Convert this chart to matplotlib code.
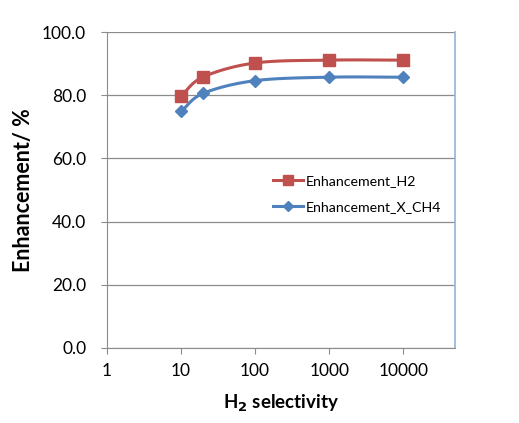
import matplotlib
matplotlib.use("Agg")
import matplotlib.pyplot as plt
import numpy as np

# data
selectivity = [10, 20, 100, 1000, 10000]
enh_h2 = [79.8, 85.8, 90.2, 91.1, 91.1]
enh_ch4 = [74.9, 80.6, 84.6, 85.7, 85.7]

x_ticks = [1, 10, 100, 1000, 10000]
x_tick_labels = ["1", "10", "100", "1000", "10000"]
y_ticks = [0, 20, 40, 60, 80, 100]

RED = "#C0504D"
BLUE = "#4F81BD"

plt.rcParams["font.family"] = ["Lato", "DejaVu Sans"]


def smooth(xs, ys, n=30):
    """Catmull-Rom curve through the points (x in log space), like Excel's smoothed line."""
    lx = np.log10(xs)
    ys = np.asarray(ys, dtype=float)
    px = np.concatenate([[2 * lx[0] - lx[1]], lx, [2 * lx[-1] - lx[-2]]])
    py = np.concatenate([[2 * ys[0] - ys[1]], ys, [2 * ys[-1] - ys[-2]]])
    out_x, out_y = [], []
    t = np.linspace(0, 1, n)
    for i in range(1, len(px) - 2):
        for p, out in ((px, out_x), (py, out_y)):
            p0, p1, p2, p3 = p[i - 1], p[i], p[i + 1], p[i + 2]
            out.extend(0.5 * ((2 * p1) + (-p0 + p2) * t
                              + (2 * p0 - 5 * p1 + 4 * p2 - p3) * t ** 2
                              + (-p0 + 3 * p1 - 3 * p2 + p3) * t ** 3))
    return 10 ** np.array(out_x), np.array(out_y)


fig = plt.figure(figsize=(5.19, 4.23), dpi=100)
ax = fig.add_axes([107 / 519, 1 - 348 / 423, (455 - 107) / 519, (348 - 32) / 423])

for ys, color, marker, ms, label in [
    (enh_h2, RED, "s", 9, "Enhancement_H2"),
    (enh_ch4, BLUE, "D", 6.5, "Enhancement_X_CH4"),
]:
    sx, sy = smooth(selectivity, ys)
    ax.plot(sx, sy, color=color, lw=2.2, zorder=3)
    ax.plot(selectivity, ys, linestyle="None", marker=marker, ms=ms,
            color=color, zorder=4)
    ax.plot([], [], color=color, lw=2.2, marker=marker, ms=ms * 0.85, label=label)

ax.set_xscale("log")
ax.set_xlim(1, 50000)
ax.set_ylim(0, 100)
ax.set_xticks(x_ticks)
ax.set_xticklabels(x_tick_labels)
ax.xaxis.set_minor_locator(matplotlib.ticker.NullLocator())
ax.set_yticks(y_ticks)
ax.set_yticklabels([f"{v:.1f}" for v in y_ticks])

ax.yaxis.grid(True, color="#8C8C8C", lw=0.9)
ax.set_axisbelow(True)
for side in ["left", "bottom"]:
    ax.spines[side].set_color("#8C8C8C")
ax.spines["top"].set_visible(False)
ax.spines["right"].set_color("#95B3D7")
ax.spines["right"].set_linewidth(1.2)

ax.tick_params(axis="both", colors="#8C8C8C", labelcolor="black",
               labelsize=12.5, length=4, direction="out")
ax.tick_params(axis="y", pad=11)
ax.tick_params(axis="x", pad=7)

ax.set_xlabel("H$_\\mathbf{2}$ selectivity", fontsize=13.5, fontweight="bold", labelpad=10)
ax.set_ylabel("Enhancement/ %", fontsize=15.5, fontweight="bold", labelpad=6)

ax.legend(loc="center left", bbox_to_anchor=(0.477, 0.487), frameon=False,
          borderpad=0, borderaxespad=0,
          fontsize=10.2, handlelength=2.1, handletextpad=0.2, labelspacing=0.95)

fig.savefig("out.png", dpi=100)
